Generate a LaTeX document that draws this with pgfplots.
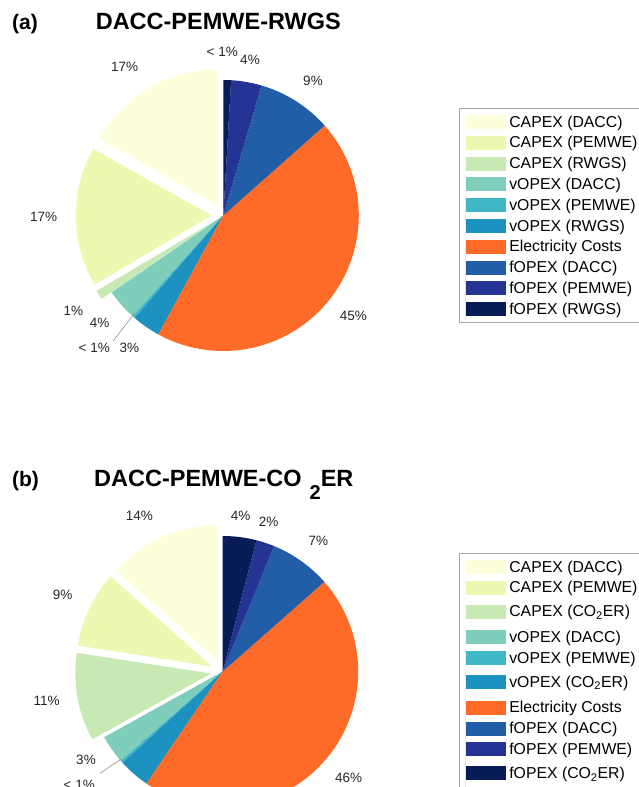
\documentclass[border=0pt]{standalone}
\usepackage{fontspec}
\setmainfont{Liberation Sans}
\usepackage{pgfplots}
\pgfplotsset{compat=1.18}
\definecolor{cA}{HTML}{FDFFDA}
\definecolor{cB}{HTML}{EDF8B1}
\definecolor{cC}{HTML}{C7E9B4}
\definecolor{cD}{HTML}{7FCDBB}
\definecolor{cE}{HTML}{41B6C4}
\definecolor{cF}{HTML}{1D91C0}
\definecolor{cG}{HTML}{FE6A27}
\definecolor{cH}{HTML}{225EA8}
\definecolor{cI}{HTML}{253494}
\definecolor{cJ}{HTML}{081D58}
% slice: colour, value (percent), explode offset (px), legend row room above / below (pt)
% slices run counter-clockwise from 12 o'clock
\newcommand\slice[5]{%
  \pgfmathsetmacro\aS{90+3.6*\cum}%
  \pgfmathsetmacro\cum{\cum+#2}%
  \pgfmathsetmacro\aE{90+3.6*\cum}%
  \pgfmathsetmacro\aM{(\aS+\aE)/2}%
  \pgfmathsetmacro\ox{\pcx+#3*cos(\aM)}%
  \pgfmathsetmacro\oy{\pcy-#3*sin(\aM)}%
  \edef\tmp{\noexpand\addplot[fill=#1,draw=none,domain=\aS:\aE,samples=60,variable=\noexpand\t,
      legend image code/.code={\noexpand\fill[#1] (0pt,-7pt) rectangle (40pt,7pt);
        \noexpand\path (0pt,-#5pt) rectangle (0pt,#4pt);}]
    ({\ox+\pr*cos(\noexpand\t)},{\oy-\pr*sin(\noexpand\t)}) -- (axis cs:\ox,\oy) -- cycle;}%
  \tmp}
\tikzset{lab/.style={font=\fontsize{13.5}{13.5}\selectfont, text=black!85}}
\pgfplotsset{
  pixaxis/.style={at={(0,0)}, anchor=south west, width=638pt, height=787pt, scale only axis,
    xmin=0, xmax=638, ymin=0, ymax=787, y dir=reverse, hide axis, clip=false,
    legend cell align=left,
    legend style={anchor=north west, draw=gray!70, line width=0.75pt, fill=white,
      inner xsep=6pt, inner ysep=3pt, row sep=0pt, column sep=3pt,
      font=\fontsize{15.8}{15.8}\selectfont, nodes={inner sep=0.65pt}}}
}
\begin{document}
\begin{tikzpicture}
% ---------------- (a) ----------------
\begin{axis}[pixaxis, legend style={at={(axis cs:459.3,108.3)}},
  legend entries={CAPEX (DACC), CAPEX (PEMWE), CAPEX (RWGS), vOPEX (DACC),
    vOPEX (PEMWE), vOPEX (RWGS), Electricity Costs, fOPEX (DACC),
    fOPEX (PEMWE), fOPEX (RWGS)}]
\def\pcx{223.3}\def\pcy{215.5}\def\pr{135.5}\def\cum{0}
\slice{cA}{16.8}{12}{10.4}{10.4}
\slice{cB}{16.7}{12}{10.4}{10.4}
\slice{cC}{1.1}{12}{10.4}{10.4}
\slice{cD}{3.75}{0}{10.4}{10.4}
\slice{cE}{0.3}{0}{10.4}{10.4}
\slice{cF}{3.4}{0}{10.4}{10.4}
\slice{cG}{44.5}{0}{10.4}{10.4}
\slice{cH}{8.9}{0}{10.4}{10.4}
\slice{cI}{3.63}{0}{10.4}{10.4}
\slice{cJ}{0.92}{0}{10.4}{10.4}
\draw[gray, line width=0.5pt] (axis cs:135,312.7) -- (axis cs:113.3,340.7);
\node[lab] at (axis cs:222.3,51.7) {< 1\%};
\node[lab] at (axis cs:250,60) {4\%};
\node[lab] at (axis cs:313,81) {9\%};
\node[lab] at (axis cs:124.7,66.7) {17\%};
\node[lab] at (axis cs:43.7,216.7) {17\%};
\node[lab] at (axis cs:73.3,311) {1\%};
\node[lab] at (axis cs:99.7,323.3) {4\%};
\node[lab] at (axis cs:94.3,348.3) {< 1\%};
\node[lab] at (axis cs:129.3,348.3) {3\%};
\node[lab] at (axis cs:353.3,315.7) {45\%};
\node[font=\bfseries\fontsize{21}{21}\selectfont, anchor=base] at (axis cs:25,29.3) {(a)};
\node[font=\bfseries\fontsize{23.5}{23.5}\selectfont, anchor=base] at (axis cs:218.3,29.3) {DACC-PEMWE-RWGS};
\end{axis}
% ---------------- (b) ----------------
\begin{axis}[pixaxis, legend style={at={(axis cs:459.3,553.3)}},
  legend entries={CAPEX (DACC), CAPEX (PEMWE), CAPEX (CO\textsubscript{2}ER), vOPEX (DACC),
    vOPEX (PEMWE), vOPEX (CO\textsubscript{2}ER), Electricity Costs, fOPEX (DACC),
    fOPEX (PEMWE), fOPEX (CO\textsubscript{2}ER)}]
\def\pcx{222.7}\def\pcy{671.5}\def\pr{135.5}\def\cum{0}
\slice{cA}{13.45}{12}{10.4}{10.4}
\slice{cB}{9.1}{12}{10.4}{10.4}
\slice{cC}{10.5}{12}{13.4}{15.4}
\slice{cD}{3.4}{0}{10.4}{10.4}
\slice{cE}{0.3}{0}{10.4}{10.4}
\slice{cF}{3.75}{0}{13.4}{15.4}
\slice{cG}{46}{0}{10.4}{10.4}
\slice{cH}{7.3}{0}{10.4}{10.4}
\slice{cI}{2.2}{0}{10.4}{10.4}
\slice{cJ}{4}{0}{13.4}{15.4}
\draw[gray, line width=0.5pt] (axis cs:120.7,759.3) -- (axis cs:100,773.3);
\node[lab] at (axis cs:139.3,516) {14\%};
\node[lab] at (axis cs:240.7,516) {4\%};
\node[lab] at (axis cs:268.7,521.7) {2\%};
\node[lab] at (axis cs:318.3,540.7) {7\%};
\node[lab] at (axis cs:62.7,595) {9\%};
\node[lab] at (axis cs:46.7,701) {11\%};
\node[lab] at (axis cs:86,760) {3\%};
\node[lab] at (axis cs:79.3,785) {< 1\%};
\node[lab] at (axis cs:348.7,778.3) {46\%};
\node[font=\bfseries\fontsize{21}{21}\selectfont, anchor=base] at (axis cs:25.5,486.7) {(b)};
\node[font=\bfseries\fontsize{23.5}{23.5}\selectfont, anchor=base] at (axis cs:223.8,486.7)
  {DACC-PEMWE-CO\hspace{8pt}\raisebox{-12.6pt}{\fontsize{20}{20}\selectfont 2}ER};
\end{axis}
\pgfresetboundingbox
\path[use as bounding box] (0,0) rectangle (638pt,787pt);
\end{tikzpicture}
\end{document}
